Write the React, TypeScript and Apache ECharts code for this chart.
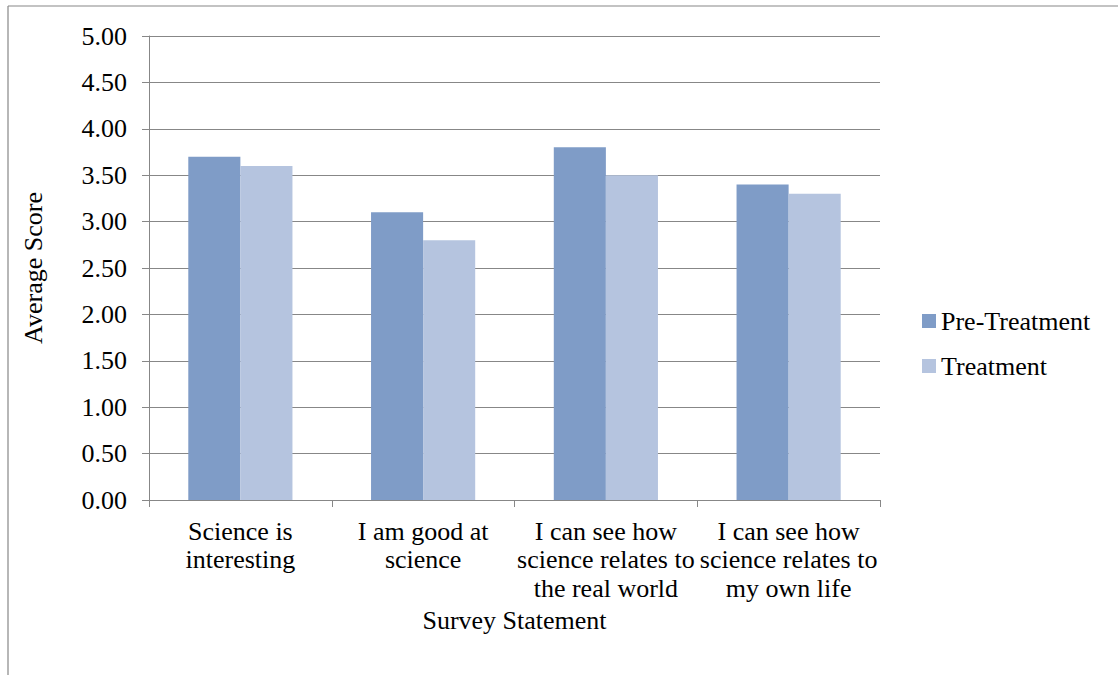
import React, { useEffect, useRef } from "react";
import * as echarts from "echarts";

const categories = [
  "Science is\ninteresting",
  "I am good at\nscience",
  "I can see how\nscience relates to\nthe real world",
  "I can see how\nscience relates to\nmy own life",
];
const preTreatment = [3.7, 3.1, 3.8, 3.4];
const treatment = [3.6, 2.8, 3.5, 3.3];
const seriesNames = ["Pre-Treatment", "Treatment"];
const yTicks = { min: 0, max: 5, interval: 0.5 };

const FONT = "Times New Roman, Liberation Serif, serif";
const FS = 26;
const GRAY = "#878787";

export default function App() {
  const ref = useRef<HTMLDivElement>(null);
  useEffect(() => {
    document.body.style.margin = "0";
    const chart = echarts.init(ref.current!, null, { renderer: "svg" });
    chart.setOption({
      animation: false,
      backgroundColor: "#ffffff",
      textStyle: { fontFamily: FONT, color: "#000" },
      grid: { left: 149, right: 238, top: 36, bottom: 175, containLabel: false },
      legend: {
        orient: "vertical",
        left: 922,
        top: 308,
        padding: 0,
        itemWidth: 14,
        itemHeight: 14,
        itemGap: 19,
        icon: "rect",
        data: seriesNames,
        textStyle: { fontFamily: FONT, fontSize: FS, lineHeight: 26, color: "#000" },
      },
      xAxis: {
        type: "category",
        data: categories,
        name: "Survey Statement",
        nameLocation: "middle",
        nameGap: 107,
        nameTextStyle: { fontFamily: FONT, fontSize: FS, color: "#000" },
        axisLine: { show: true, lineStyle: { color: GRAY, width: 1 } },
        axisTick: { show: true, length: 7, lineStyle: { color: GRAY } },
        axisLabel: {
          interval: 0,
          margin: 17,
          fontFamily: FONT,
          fontSize: FS,
          lineHeight: 28.5,
          color: "#000",
          align: "center",
        },
      },
      yAxis: {
        type: "value",
        min: yTicks.min,
        max: yTicks.max,
        interval: yTicks.interval,
        name: "Average Score",
        nameLocation: "middle",
        nameRotate: 90,
        nameGap: 103,
        nameTextStyle: { fontFamily: FONT, fontSize: FS, color: "#000" },
        axisLine: { show: true, lineStyle: { color: GRAY, width: 1 } },
        axisTick: { show: true, length: 7, lineStyle: { color: GRAY } },
        splitLine: { show: true, lineStyle: { color: GRAY, width: 1 } },
        axisLabel: {
          margin: 22,
          fontFamily: FONT,
          fontSize: FS,
          color: "#000",
          formatter: (v: number) => v.toFixed(2),
        },
      },
      series: [
        {
          name: seriesNames[0],
          type: "bar",
          data: preTreatment,
          barGap: "0%",
          barCategoryGap: "43%",
          itemStyle: { color: "#7F9CC7" },
        },
        {
          name: seriesNames[1],
          type: "bar",
          data: treatment,
          barGap: "0%",
          barCategoryGap: "43%",
          itemStyle: { color: "#B5C4DF" },
        },
      ],
      graphic: [
        {
          type: "line",
          shape: { x1: 8, y1: 6, x2: 1118, y2: 6 },
          style: { stroke: GRAY, lineWidth: 1.2 },
          silent: true,
        },
        {
          type: "line",
          shape: { x1: 8, y1: 6, x2: 8, y2: 675 },
          style: { stroke: GRAY, lineWidth: 1.2 },
          silent: true,
        },
      ],
    });
    return () => chart.dispose();
  }, []);
  return <div ref={ref} style={{ width: 1118, height: 675 }} />;
}
